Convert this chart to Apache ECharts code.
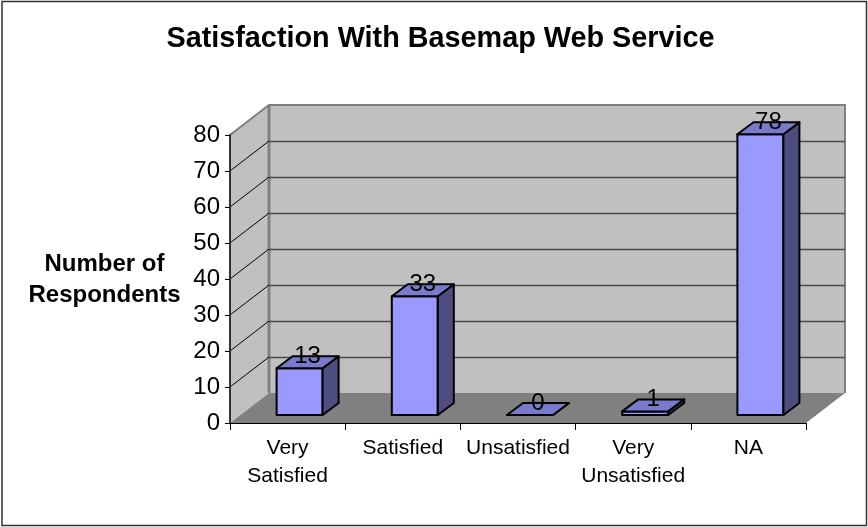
<!DOCTYPE html>
<html>
<head>
<meta charset="utf-8">
<style>
  html, body { margin: 0; padding: 0; background: #fff; }
  #chart { width: 868px; height: 527px; }
</style>
<script src="https://cdn.jsdelivr.net/npm/echarts@6/dist/echarts.min.js"></script>
</head>
<body>
<div id="chart"></div>
<script>
const categories = ['Very\nSatisfied', 'Satisfied', 'Unsatisfied', 'Very\nUnsatisfied', 'NA'];
const respondents = [13, 33, 0, 1, 78];
const yTicks = [10, 20, 30, 40, 50, 60, 70];

const FONT = '"Liberation Sans", Arial, sans-serif';
// fake 3D offsets in pixels
const WALL_DX = 39, WALL_DY = -30;
const BAR_DX = 16, BAR_DY = -12;
const BAR_SHIFT_X = 12, BAR_SHIFT_Y = -8;
const BAR_W = 46;

function renderWalls(params, api) {
  const c = params.coordSys;
  const left = c.x, right = c.x + c.width, top = c.y, bottom = c.y + c.height;
  const poly = (points, fill) => ({ type: 'polygon', shape: { points }, style: { fill } });
  const edge = (points, w) => ({
    type: 'polyline', shape: { points }, style: { fill: 'none', stroke: '#808080', lineWidth: w },
  });
  return {
    type: 'group',
    children: [
      poly([[left + WALL_DX, top + WALL_DY], [right + WALL_DX, top + WALL_DY], [right + WALL_DX, bottom + WALL_DY], [left + WALL_DX, bottom + WALL_DY]], '#c0c0c0'),
      poly([[left, top], [left + WALL_DX, top + WALL_DY], [left + WALL_DX, bottom + WALL_DY], [left, bottom]], '#c0c0c0'),
      poly([[left, bottom], [left + WALL_DX, bottom + WALL_DY], [right + WALL_DX, bottom + WALL_DY], [right, bottom]], '#808080'),
      edge([[left, top], [left + WALL_DX, top + WALL_DY], [right + WALL_DX, top + WALL_DY], [right + WALL_DX, bottom + WALL_DY]], 2),
      edge([[left + WALL_DX, top + WALL_DY], [left + WALL_DX, bottom + WALL_DY]], 3),
    ],
  };
}

function renderGridline(params, api) {
  const c = params.coordSys;
  const y = Math.round(api.coord([0, api.value(0)])[1]);
  return {
    type: 'group',
    children: [
      {
        type: 'line',
        shape: { x1: c.x, y1: y, x2: c.x + WALL_DX, y2: y + WALL_DY },
        style: { stroke: '#000', lineWidth: 1 },
      },
      {
        type: 'line',
        shape: { x1: c.x + WALL_DX, y1: y + WALL_DY + 0.5, x2: c.x + c.width + WALL_DX, y2: y + WALL_DY + 0.5 },
        style: { stroke: '#4a4a4a', lineWidth: 1.5 },
      },
    ],
  };
}

function renderBar(params, api) {
  const p = api.coord([api.value(0), api.value(1)]);
  const base = api.coord([api.value(0), 0]);
  const x0 = p[0] + BAR_SHIFT_X - BAR_W / 2;
  const x1 = x0 + BAR_W;
  const yTop = p[1] + BAR_SHIFT_Y;
  const yBot = base[1] + BAR_SHIFT_Y;
  const line = { stroke: '#000', lineWidth: 2, lineJoin: 'round' };
  return {
    type: 'group',
    children: [
      {
        type: 'polygon',
        shape: { points: [[x0, yTop], [x1, yTop], [x1, yBot], [x0, yBot]] },
        style: { fill: '#9999ff', ...line },
      },
      {
        type: 'polygon',
        shape: { points: [[x1, yTop], [x1 + BAR_DX, yTop + BAR_DY], [x1 + BAR_DX, yBot + BAR_DY], [x1, yBot]] },
        style: { fill: '#4d4d80', ...line },
      },
      {
        type: 'polygon',
        shape: { points: [[x0, yTop], [x0 + BAR_DX, yTop + BAR_DY], [x1 + BAR_DX, yTop + BAR_DY], [x1, yTop]] },
        style: { fill: '#7a7acc', ...line },
      },
      {
        type: 'text',
        style: {
          x: x0 + BAR_W / 2 + BAR_DX / 2,
          y: yTop + BAR_DY / 2 - 6,
          text: String(api.value(1)),
          align: 'center',
          verticalAlign: 'middle',
          fontFamily: FONT,
          fontSize: 24,
          fill: '#000',
        },
      },
    ],
  };
}

const chart = echarts.init(document.getElementById('chart'), null, { renderer: 'canvas' });
chart.setOption({
  animation: false,
  backgroundColor: '#fff',
  title: {
    text: 'Satisfaction With Basemap Web Service',
    left: 435.5,
    top: 20,
    textAlign: 'center',
    textStyle: { fontFamily: FONT, fontSize: 28.8, fontWeight: 'bold', color: '#000' },
  },
  graphic: [
    {
      type: 'rect',
      z: -1,
      shape: { x: 2, y: 1.5, width: 864.5, height: 524 },
      style: { fill: 'none', stroke: '#333', lineWidth: 1.5 },
    },
    {
      type: 'text',
      x: 104.5,
      y: 249,
      style: {
        text: 'Number of\nRespondents',
        align: 'center',
        fontFamily: FONT,
        fontSize: 24,
        fontWeight: 'bold',
        lineHeight: 31,
        fill: '#000',
      },
    },
  ],
  grid: { left: 230, top: 135, width: 576, height: 288 },
  xAxis: {
    type: 'category',
    data: categories,
    z: 3,
    axisLine: { lineStyle: { color: '#000', width: 1 } },
    axisTick: { show: true, alignWithLabel: false, length: 7, lineStyle: { color: '#000' } },
    axisLabel: { fontFamily: FONT, fontSize: 21, color: '#000', lineHeight: 28, margin: 11, interval: 0 },
  },
  yAxis: {
    type: 'value',
    min: 0,
    max: 80,
    interval: 10,
    z: 3,
    axisLine: { show: true, lineStyle: { color: '#333', width: 2 } },
    axisTick: { show: true, length: 5, lineStyle: { color: '#000' } },
    axisLabel: { fontFamily: FONT, fontSize: 24, color: '#000', margin: 10, padding: [3, 0, 0, 0] },
    splitLine: { show: false },
  },
  series: [
    { type: 'custom', z: 1, silent: true, clip: false, data: [[0]], renderItem: renderWalls },
    { type: 'custom', z: 2, silent: true, clip: false, data: yTicks.map((t) => [t]), encode: { y: 0 }, renderItem: renderGridline },
    {
      type: 'custom',
      z: 4,
      clip: false,
      data: respondents.map((v, i) => [i, v]),
      encode: { x: 0, y: 1 },
      renderItem: renderBar,
    },
  ],
});
</script>
</body>
</html>
